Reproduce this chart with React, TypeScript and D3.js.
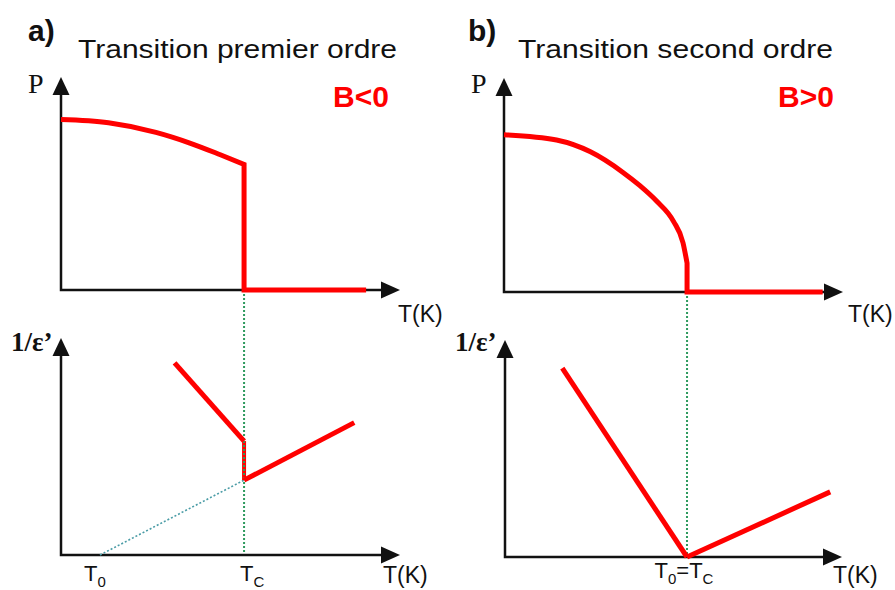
import React, { useEffect, useRef } from 'react';
import * as d3 from 'd3';

// values (arbitrary units, T and response on 0..10)
const TC = 5.4;
const T0_FIRST = 1.15;

// a) first order: P(T) below Tc, then the jump to zero
const firstPT = [0, 1.4, 2.8, 3.8, 4.7, 5.4];
const firstPV = [8.0, 7.85, 7.4, 6.9, 6.35, 5.9];
const firstZeroEnd = 9.0;

// a) 1/eps' branches
const firstInvBelowT = [3.35, 5.4];
const firstInvBelowV = [8.85, 5.25];
const firstInvAboveT = [5.4, 8.65];
const firstInvAboveV = [3.45, 6.1];

// b) second order: P(T)
const secondPT = [0, 1.55, 2.55, 3.5, 4.0, 4.5, 5.0, 5.28, 5.4];
const secondPV = [7.35, 7.1, 6.55, 5.6, 4.98, 4.25, 3.3, 2.3, 1.35];
const secondZeroEnd = 9.4;

// b) 1/eps' branches
const secondInvBelowT = [1.7, 5.4];
const secondInvBelowV = [8.7, 0];
const secondInvAboveT = [5.4, 9.65];
const secondInvAboveV = [0, 3.0];

const panelLetters = ['a)', 'b)'];
const panelTitles = ['Transition premier ordre', 'Transition second ordre'];
const signLabels = ['B<0', 'B>0'];

const RED = '#ff0000';
const SANS = '"Liberation Sans", Arial, sans-serif';
const SERIF = '"Liberation Serif", "Times New Roman", serif';

const zip = (t: number[], v: number[]) => t.map((d, i) => [d, v[i]] as [number, number]);

const App: React.FC = () => {
  const svgRef = useRef<SVGSVGElement>(null);

  useEffect(() => {
    if (!svgRef.current) return;
    const svg = d3.select(svgRef.current);
    svg.selectAll('*').remove();

    const layouts = [
      { x0: 61, x1: 400, topY0: 290, topY1: 77, botX0: 61, botX1: 400, botY0: 555, botY1: 338, dx: 0 },
      { x0: 504, x1: 843, topY0: 292, topY1: 78, botX0: 505, botX1: 842, botY0: 557, botY1: 340, dx: 442 },
    ];

    const drawAxes = (xs: d3.ScaleLinear<number, number>, ys: d3.ScaleLinear<number, number>) => {
      const ox = xs(0), oy = ys(0), tx = xs(10), ty = ys(10);
      svg.append('path')
        .attr('d', `M${ox},${ty + 14}L${ox},${oy}L${tx - 14},${oy}`)
        .attr('fill', 'none').attr('stroke', '#111').attr('stroke-width', 2.5);
      svg.append('path')
        .attr('d', `M${ox},${ty}L${ox - 8.5},${ty + 18}L${ox + 8.5},${ty + 18}Z`)
        .attr('fill', '#111');
      svg.append('path')
        .attr('d', `M${tx},${oy}L${tx - 19},${oy - 8.5}L${tx - 19},${oy + 8.5}Z`)
        .attr('fill', '#111');
    };

    const line = (xs: d3.ScaleLinear<number, number>, ys: d3.ScaleLinear<number, number>, curve: d3.CurveFactory = d3.curveLinear) =>
      d3.line<[number, number]>().x(d => xs(d[0])).y(d => ys(d[1])).curve(curve);

    const addText = (txt: string, x: number, y: number, size: number, opts: any = {}) => {
      const t = svg.append('text')
        .attr('x', x).attr('y', y)
        .attr('font-family', opts.family || SANS)
        .attr('font-size', size)
        .attr('font-weight', opts.weight || 'normal')
        .attr('fill', opts.fill || '#111')
        .attr('text-anchor', opts.anchor || 'start')
        .text(txt);
      if (opts.length) t.attr('textLength', opts.length).attr('lengthAdjust', 'spacingAndGlyphs');
      return t;
    };

    const subLabel = (x: number, y: number, parts: [string, boolean][], anchor = 'start') => {
      const t = svg.append('text')
        .attr('x', x).attr('y', y)
        .attr('font-family', SANS).attr('font-size', 22).attr('fill', '#111')
        .attr('text-anchor', anchor);
      let shifted = false;
      parts.forEach(([s, sub]) => {
        const dy = sub && !shifted ? 6 : !sub && shifted ? -6 : 0;
        shifted = sub;
        t.append('tspan')
          .attr('font-size', sub ? 15 : 22)
          .attr('dy', dy)
          .text(s);
      });
    };

    layouts.forEach((L, i) => {
      const xTop = d3.scaleLinear().domain([0, 10]).range([L.x0, L.x1]);
      const yTop = d3.scaleLinear().domain([0, 10]).range([L.topY0, L.topY1]);
      const xBot = d3.scaleLinear().domain([0, 10]).range([L.botX0, L.botX1]);
      const yBot = d3.scaleLinear().domain([0, 10]).range([L.botY0, L.botY1]);

      // Tc guide through both panels
      svg.append('line')
        .attr('x1', xTop(TC)).attr('x2', xBot(TC))
        .attr('y1', yTop(0)).attr('y2', yBot(0))
        .attr('stroke', '#2e9a5e').attr('stroke-width', 2).attr('stroke-dasharray', '2,2');

      drawAxes(xTop, yTop);
      drawAxes(xBot, yBot);

      // top curve: P(T)
      const pT = i === 0 ? firstPT : secondPT;
      const pV = i === 0 ? firstPV : secondPV;
      const zeroEnd = i === 0 ? firstZeroEnd : secondZeroEnd;
      const pts = zip(pT, pV);
      const last = pts[pts.length - 1];
      const tail: [number, number][] = [last, [last[0], 0], [zeroEnd, 0]];
      const curvePath = line(xTop, yTop, d3.curveMonotoneX)(pts) || '';
      const tailPath = line(xTop, yTop)(tail) || '';
      svg.append('path')
        .attr('d', curvePath + tailPath.replace(/^M/, 'L'))
        .attr('fill', 'none').attr('stroke', RED).attr('stroke-width', 5)
        .attr('stroke-linejoin', 'miter');

      // bottom: 1/eps'
      if (i === 0) {
        const below = zip(firstInvBelowT, firstInvBelowV);
        const above = zip(firstInvAboveT, firstInvAboveV);
        // extrapolated Curie-Weiss line to T0
        svg.append('path')
          .attr('d', line(xBot, yBot)([[T0_FIRST, 0], above[0]]))
          .attr('fill', 'none').attr('stroke', '#4a9ca6').attr('stroke-width', 1.6)
          .attr('stroke-dasharray', '2,2');
        // jump at Tc
        svg.append('path')
          .attr('d', line(xBot, yBot)([below[below.length - 1], above[0]]))
          .attr('fill', 'none').attr('stroke', RED).attr('stroke-width', 4);
        svg.append('path')
          .attr('d', line(xBot, yBot)([below[below.length - 1], above[0]]))
          .attr('fill', 'none').attr('stroke', '#2e9a5e').attr('stroke-width', 2)
          .attr('stroke-dasharray', '2,2');
        [below, above].forEach(seg => {
          svg.append('path')
            .attr('d', line(xBot, yBot)(seg))
            .attr('fill', 'none').attr('stroke', RED).attr('stroke-width', 5);
        });
      } else {
        const below = zip(secondInvBelowT, secondInvBelowV);
        const above = zip(secondInvAboveT, secondInvAboveV);
        [below, above].forEach(seg => {
          svg.append('path')
            .attr('d', line(xBot, yBot)(seg))
            .attr('fill', 'none').attr('stroke', RED).attr('stroke-width', 5);
        });
      }

      // texts
      addText(panelLetters[i], 28 + L.dx - (i ? 2 : 0), 41, 30, { weight: 'bold' });
      addText(panelTitles[i], i === 0 ? 78 : 518, 58, 26, { length: i === 0 ? 319 : 315 });
      addText('P', L.x0 - 33, 93, 28, { family: SERIF });
      addText(signLabels[i], i === 0 ? 333 : 778, 107, 30, { weight: 'bold', fill: RED });
      addText('T(K)', i === 0 ? 398 : 848, 322, 23);
      addText('1/ε’', L.botX0 - 50, 351, 27, { family: SERIF, weight: 'bold' });
      addText('T(K)', i === 0 ? 383 : 833, 583, 23);

      if (i === 0) {
        subLabel(xBot(T0_FIRST) - 16, 581, [['T', false], ['0', true]]);
        subLabel(xBot(TC) - 4, 581, [['T', false], ['C', true]]);
      } else {
        subLabel(xBot(TC) - 3, 578, [['T', false], ['0', true], ['=T', false], ['C', true]], 'middle');
      }
    });
  }, []);

  return (
    <svg
      ref={svgRef}
      width={895}
      height={590}
      style={{ position: 'absolute', left: 0, top: 0, background: '#fff' }}
    />
  );
};

export default App;
